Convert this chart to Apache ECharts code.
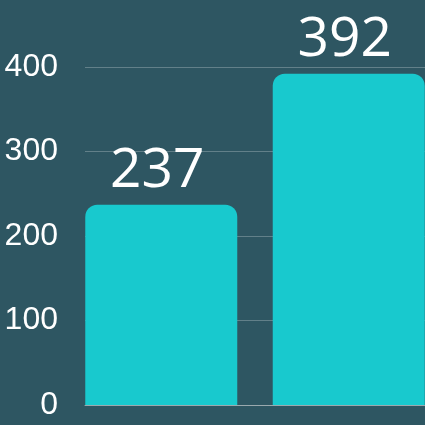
<!DOCTYPE html>
<html><head><meta charset="utf-8">
<script src="https://cdn.jsdelivr.net/npm/echarts@6/dist/echarts.min.js"></script>
<style>html,body{margin:0;padding:0;background:#2e5662;}#c{width:425px;height:425px;}</style>
</head><body><div id="c"></div>
<script>
const categories = ['A', 'B'];
const valuesA = [237, '-'];
const valuesB = ['-', 392];
const yTicks = [0, 100, 200, 300, 400];

const chart = echarts.init(document.getElementById('c'));
const label = {show: true, position: 'top', color: '#ffffff', fontSize: 55, fontFamily: 'Open Sans', distance: 6, offset: [-4, 0]};
const itemStyle = {color: '#18c9ce', borderRadius: [12, 12, 0, 0]};
chart.setOption({
  backgroundColor: '#2e5662',
  animation: false,
  grid: {left: 85, right: 0, top: 67, bottom: 20},
  xAxis: {type: 'category', data: categories, axisLabel: {show: false}, axisTick: {show: false},
    axisLine: {lineStyle: {color: '#9aa9ae', width: 1}}},
  yAxis: {type: 'value', min: yTicks[0], max: yTicks[yTicks.length - 1], interval: 100,
    axisLabel: {color: '#ffffff', fontSize: 32, fontFamily: 'Liberation Sans', margin: 27},
    splitLine: {lineStyle: {color: 'rgba(255,255,255,0.25)', width: 1}},
    axisLine: {show: false}, axisTick: {show: false}},
  series: [
    {type: 'bar', data: valuesA, barWidth: 152, barGap: '-88.5%', label, itemStyle},
    {type: 'bar', data: valuesB, barWidth: 152, label, itemStyle}
  ]
});
</script></body></html>
